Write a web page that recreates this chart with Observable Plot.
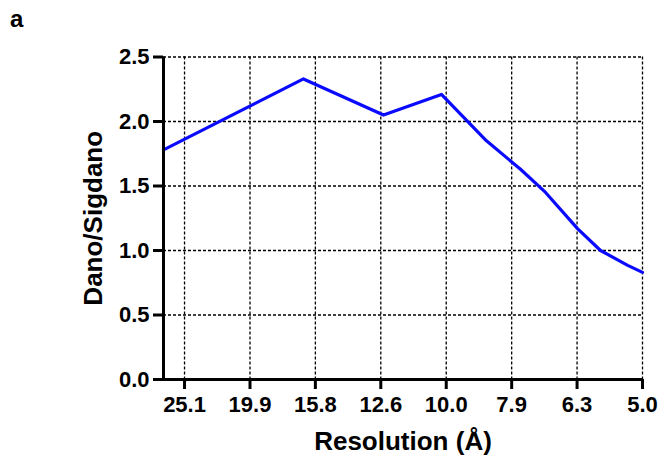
<!DOCTYPE html>
<html>
<head>
<meta charset="utf-8">
<script src="https://cdn.jsdelivr.net/npm/d3@7"></script>
<script src="https://cdn.jsdelivr.net/npm/@observablehq/plot@0.6"></script>
<style>
  body { margin: 0; background: #fff; }
  #wrap { position: relative; width: 662px; height: 455px; }
  #panel { position: absolute; left: 10px; top: 7px; font: bold 24px "Liberation Sans", Arial, sans-serif; line-height: 1; z-index: 2; }
</style>
</head>
<body>
<div id="wrap"><div id="panel">a</div></div>
<script>
// Resolution (Å) of each point and its Dano/Sigdano value
const resolution = [27.05, 16.53, 12.47, 10.17, 8.68, 7.70, 7.05, 6.30, 5.81, 5.28, 5.012];
const danoSigdano = [1.78, 2.33, 2.05, 2.21, 1.85, 1.63, 1.45, 1.17, 1.00, 0.885, 0.83];

// axis ticks
const xTickValues = [25.12, 19.95, 15.85, 12.59, 10.0, 7.943, 6.310, 5.012];
const xTickLabels = ["25.1", "19.9", "15.8", "12.6", "10.0", "7.9", "6.3", "5.0"];
const yTickValues = [0, 0.5, 1.0, 1.5, 2.0, 2.5];
const xDomain = [27.05, 5.012];
const yDomain = [0, 2.5];

const data = resolution.map((r, i) => ({res: r, v: danoSigdano[i]}));
const xFmt = d => xTickLabels[xTickValues.indexOf(d)];

const gridStyle = {stroke: "#000", strokeOpacity: 1, strokeWidth: 1.3, strokeDasharray: "3,2"};

const chart = Plot.plot({
  width: 662,
  height: 455,
  marginLeft: 163,
  marginRight: 20,
  marginTop: 56.5,
  marginBottom: 76,
  style: {fontFamily: "'Liberation Sans', Arial, sans-serif", fontWeight: "bold", fontSize: "22px", color: "#000", background: "#fff"},
  x: {type: "log", domain: xDomain},
  y: {domain: yDomain},
  marks: [
    Plot.gridX(xTickValues, gridStyle),
    Plot.gridY(yTickValues, gridStyle),
    Plot.line(data, {x: "res", y: "v", stroke: "#0a0aff", strokeWidth: 3.2}),
    Plot.ruleX([xDomain[0]], {stroke: "#000", strokeWidth: 3}),
    Plot.ruleY([yDomain[0]], {stroke: "#000", strokeWidth: 3}),
    Plot.axisX({ticks: xTickValues, tickFormat: xFmt, tickSize: 10, tickPadding: 7, strokeWidth: 3,
      label: "Resolution (Å)", labelAnchor: "center", labelArrow: "none", labelOffset: 70}),
    Plot.axisY({ticks: yTickValues, tickFormat: d => d.toFixed(1), tickSize: 10, tickPadding: 4, strokeWidth: 3,
      label: "Dano/Sigdano", labelAnchor: "center", labelArrow: "none", labelOffset: 80})
  ]
});
document.getElementById("wrap").prepend(chart);
chart.style.position = "absolute";
chart.style.left = "0";
chart.style.top = "0";

chart.querySelectorAll('g[aria-label="x-axis label"], g[aria-label="y-axis label"]').forEach(g => {
  g.style.fontSize = "26px";
});
</script>
</body>
</html>
